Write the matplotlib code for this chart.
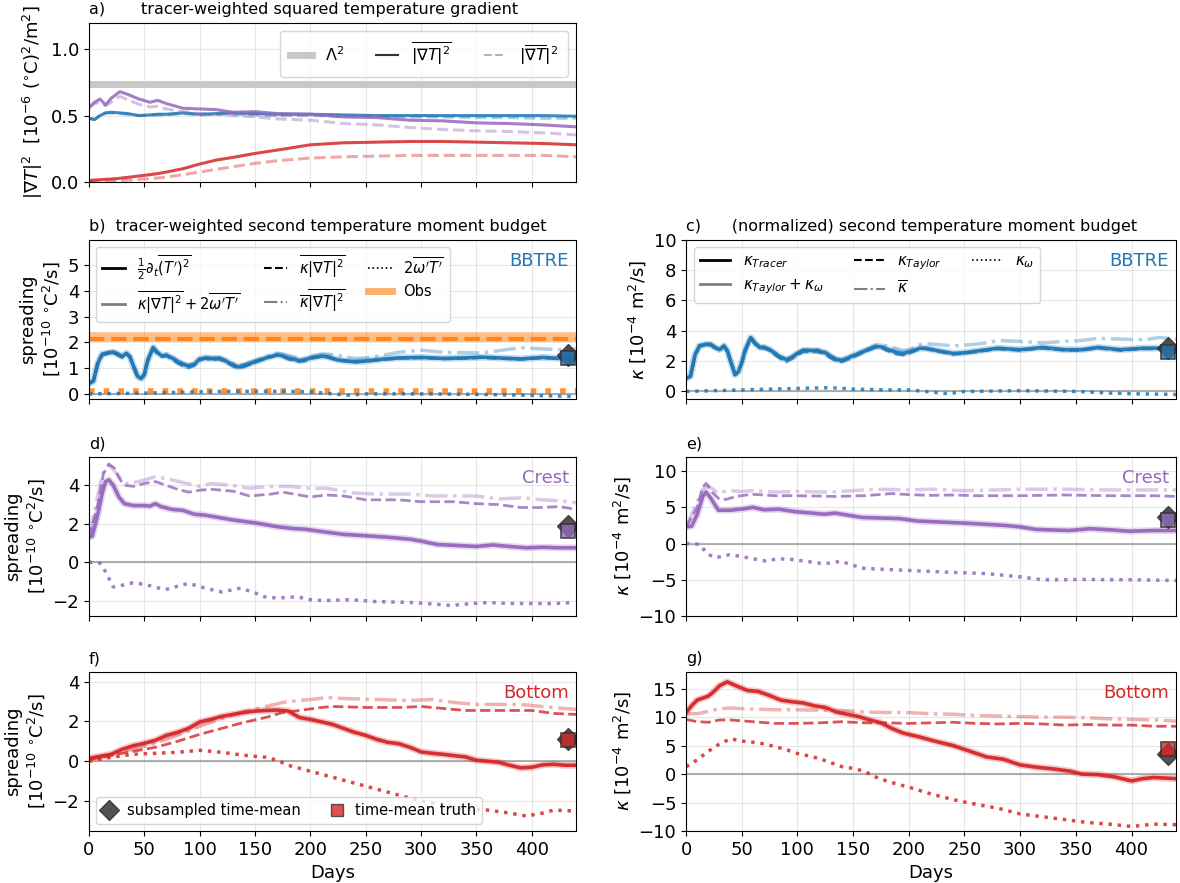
import numpy as np
import matplotlib
matplotlib.use('Agg')
import matplotlib.pyplot as plt
from matplotlib.lines import Line2D

plt.rcParams['font.size'] = 13

c_bbtre = 'tab:blue'
c_crest = 'tab:purple'
c_bottom = 'tab:red'
c_obs = 'tab:orange'
mean_day = 433

# ---- a) squared temperature gradient ----
days_a = [0, 5, 10, 15, 20, 28, 35, 45, 55, 62, 70, 85, 100, 115, 130, 150, 170, 200, 230, 260, 290, 320, 350, 380, 410, 440]
grad2_bbtre = [0.48, 0.47, 0.50, 0.52, 0.525, 0.52, 0.515, 0.50, 0.505, 0.51, 0.51, 0.52, 0.51, 0.515, 0.52, 0.515, 0.51, 0.51, 0.505, 0.50, 0.50, 0.50, 0.50, 0.50, 0.50, 0.495]
gradm2_bbtre = [0.48, 0.47, 0.50, 0.52, 0.52, 0.515, 0.51, 0.50, 0.50, 0.505, 0.505, 0.515, 0.505, 0.51, 0.51, 0.505, 0.50, 0.50, 0.495, 0.495, 0.49, 0.49, 0.485, 0.485, 0.48, 0.48]
grad2_crest = [0.56, 0.60, 0.625, 0.58, 0.63, 0.68, 0.66, 0.625, 0.60, 0.615, 0.59, 0.555, 0.55, 0.545, 0.525, 0.53, 0.515, 0.51, 0.49, 0.485, 0.465, 0.46, 0.445, 0.44, 0.43, 0.415]
gradm2_crest = [0.56, 0.59, 0.60, 0.575, 0.60, 0.645, 0.62, 0.585, 0.565, 0.57, 0.55, 0.53, 0.515, 0.51, 0.50, 0.49, 0.475, 0.465, 0.44, 0.43, 0.41, 0.395, 0.385, 0.38, 0.37, 0.355]
grad2_bottom = [0.01, 0.015, 0.017, 0.02, 0.022, 0.028, 0.035, 0.045, 0.055, 0.063, 0.075, 0.10, 0.135, 0.165, 0.185, 0.215, 0.24, 0.28, 0.295, 0.30, 0.305, 0.305, 0.30, 0.295, 0.29, 0.28]
gradm2_bottom = [0.0, 0.002, 0.004, 0.006, 0.008, 0.011, 0.014, 0.02, 0.025, 0.03, 0.037, 0.055, 0.075, 0.095, 0.115, 0.14, 0.16, 0.18, 0.19, 0.195, 0.2, 0.2, 0.2, 0.2, 0.2, 0.19]
lambda2 = 0.74

# ---- b) / c) BBTRE ----
days_bc = [0, 4, 8, 12, 18, 22, 26, 30, 34, 37, 40, 44, 47, 50, 53, 58, 62, 66, 70, 75, 80, 85, 90, 95, 100, 105, 110, 118, 125, 130, 135, 140, 150, 160, 170, 175, 180, 190, 195, 200, 210, 215, 225, 240, 250, 265, 280, 300, 320, 340, 355, 370, 390, 410, 425, 440]
sp_tracer_bbtre = [0.4, 0.5, 1.2, 1.55, 1.6, 1.62, 1.55, 1.45, 1.58, 1.45, 1.1, 0.68, 0.6, 0.75, 1.3, 1.8, 1.6, 1.48, 1.5, 1.4, 1.25, 1.15, 1.08, 1.15, 1.35, 1.4, 1.37, 1.38, 1.25, 1.13, 1.05, 1.1, 1.25, 1.4, 1.52, 1.48, 1.4, 1.3, 1.32, 1.4, 1.47, 1.45, 1.32, 1.25, 1.28, 1.35, 1.4, 1.42, 1.38, 1.4, 1.43, 1.4, 1.36, 1.42, 1.38, 1.42]
sp_taylor_bbtre = [0.4, 0.5, 1.15, 1.5, 1.58, 1.6, 1.5, 1.42, 1.55, 1.4, 1.05, 0.65, 0.58, 0.72, 1.25, 1.75, 1.55, 1.45, 1.47, 1.35, 1.2, 1.08, 1.02, 1.1, 1.3, 1.37, 1.33, 1.35, 1.2, 1.08, 1.0, 1.05, 1.22, 1.38, 1.5, 1.45, 1.35, 1.25, 1.28, 1.37, 1.45, 1.43, 1.3, 1.23, 1.26, 1.33, 1.38, 1.4, 1.36, 1.38, 1.41, 1.38, 1.34, 1.4, 1.36, 1.4]
sp_kbar_bbtre = [0.42, 0.52, 1.22, 1.57, 1.63, 1.65, 1.58, 1.48, 1.6, 1.48, 1.12, 0.7, 0.62, 0.78, 1.32, 1.82, 1.63, 1.52, 1.55, 1.45, 1.3, 1.2, 1.12, 1.2, 1.38, 1.45, 1.42, 1.42, 1.3, 1.18, 1.1, 1.15, 1.3, 1.45, 1.58, 1.55, 1.5, 1.38, 1.38, 1.45, 1.55, 1.55, 1.5, 1.38, 1.4, 1.5, 1.62, 1.7, 1.62, 1.6, 1.6, 1.68, 1.8, 1.75, 1.72, 1.75]
k_tracer_bbtre = [0.85, 1.0, 2.4, 3.0, 3.1, 3.1, 2.9, 2.75, 3.0, 2.7, 2.0, 1.1, 1.3, 1.9, 2.7, 3.55, 3.2, 2.9, 2.9, 2.75, 2.5, 2.25, 2.1, 2.25, 2.5, 2.7, 2.7, 2.7, 2.55, 2.3, 2.1, 2.05, 2.35, 2.65, 2.95, 2.95, 2.8, 2.55, 2.5, 2.6, 2.85, 2.85, 2.7, 2.5, 2.55, 2.7, 2.85, 2.75, 2.9, 2.75, 2.75, 2.9, 2.75, 2.85, 2.85, 2.85]
k_taylor_bbtre = [0.85, 1.0, 2.3, 2.95, 3.05, 3.05, 2.85, 2.7, 2.95, 2.6, 1.95, 1.1, 1.3, 1.85, 2.6, 3.45, 3.1, 2.85, 2.85, 2.7, 2.4, 2.15, 1.95, 2.15, 2.4, 2.6, 2.6, 2.6, 2.45, 2.2, 2.0, 1.95, 2.25, 2.6, 2.9, 2.9, 2.7, 2.45, 2.4, 2.5, 2.8, 2.8, 2.65, 2.45, 2.5, 2.65, 2.8, 2.7, 2.85, 2.7, 2.7, 2.85, 2.7, 2.8, 2.8, 2.8]
k_kbar_bbtre = [0.87, 1.02, 2.45, 3.05, 3.15, 3.15, 2.95, 2.8, 3.05, 2.75, 2.05, 1.15, 1.35, 1.95, 2.75, 3.6, 3.25, 2.95, 2.95, 2.8, 2.55, 2.3, 2.15, 2.3, 2.55, 2.75, 2.75, 2.75, 2.6, 2.35, 2.15, 2.1, 2.4, 2.7, 3.05, 3.1, 3.0, 2.8, 2.7, 2.75, 3.1, 3.15, 3.1, 3.0, 3.05, 3.15, 3.35, 3.3, 3.2, 3.3, 3.35, 3.5, 3.45, 3.4, 3.55, 3.45]
days_bc_w = [0, 50, 100, 130, 150, 180, 200, 215, 235, 250, 300, 350, 380, 400, 440]
sp_omega_bbtre = [0.0, 0.03, 0.08, 0.1, 0.1, 0.1, 0.08, 0.02, -0.05, 0.0, 0.0, -0.02, -0.04, -0.06, -0.1]
k_omega_bbtre = [0.0, 0.1, 0.2, 0.25, 0.15, 0.1, 0.1, 0.0, -0.15, 0.0, 0.05, 0.0, -0.1, -0.15, -0.2]
obs_spread = 2.2
obs_taylor = 2.12
obs_omega = 0.12

# ---- d) Crest spreading ----
days_d = [0, 3, 8, 12, 15, 18, 22, 27, 32, 40, 50, 55, 60, 65, 75, 85, 95, 105, 120, 130, 150, 170, 185, 195, 210, 230, 250, 270, 290, 300, 315, 330, 350, 365, 380, 395, 410, 425, 440]
sp_tracer_crest = [1.3, 1.35, 2.5, 3.6, 4.2, 4.28, 4.0, 3.4, 3.05, 2.95, 2.95, 2.92, 3.05, 2.9, 2.75, 2.7, 2.5, 2.45, 2.3, 2.2, 2.05, 1.85, 1.75, 1.72, 1.6, 1.45, 1.38, 1.3, 1.2, 1.1, 0.92, 0.88, 0.82, 0.9, 0.82, 0.75, 0.78, 0.75, 0.75]
days_d_t = [0, 8, 13, 18, 23, 28, 33, 40, 50, 60, 70, 80, 90, 100, 110, 130, 145, 165, 175, 190, 200, 215, 230, 250, 280, 300, 330, 350, 370, 390, 410, 425, 440]
sp_taylor_crest = [1.3, 3.0, 4.6, 5.1, 4.9, 4.3, 4.0, 3.95, 4.1, 4.2, 4.0, 3.8, 3.65, 3.75, 3.8, 3.7, 3.45, 3.55, 3.65, 3.5, 3.4, 3.5, 3.45, 3.25, 3.25, 3.15, 3.15, 3.05, 3.0, 2.85, 2.85, 2.9, 2.75]
days_d_k = [0, 12, 18, 25, 33, 45, 60, 70, 85, 100, 110, 130, 145, 165, 180, 200, 215, 240, 260, 290, 310, 330, 350, 370, 390, 410, 425, 440]
sp_kbar_crest = [1.3, 4.6, 5.1, 4.6, 4.1, 4.2, 4.45, 4.35, 4.15, 3.95, 4.1, 4.0, 3.85, 3.95, 3.95, 3.85, 3.85, 3.6, 3.55, 3.55, 3.45, 3.45, 3.45, 3.3, 3.35, 3.25, 3.2, 3.1]
days_d_w = [0, 10, 15, 22, 30, 39, 50, 60, 69, 80, 90, 105, 120, 137, 150, 161, 175, 188, 200, 212, 236, 259, 293, 327, 347, 361, 380, 395, 420, 439]
sp_omega_crest = [0, -0.05, -0.5, -1.29, -1.2, -1.08, -1.15, -1.3, -1.43, -1.25, -1.1, -1.35, -1.55, -1.35, -1.6, -1.85, -1.85, -1.8, -1.95, -2.0, -1.95, -2.05, -2.1, -2.25, -2.15, -2.1, -2.15, -2.15, -2.15, -2.1]

# ---- e) Crest diffusivity ----
days_e = [0, 5, 10, 15, 18, 22, 29, 40, 52, 60, 70, 83, 98, 124, 134, 158, 192, 208, 253, 286, 300, 314, 344, 363, 380, 398, 420, 440]
k_tracer_crest = [2.3, 2.4, 4.0, 6.5, 7.1, 6.3, 4.6, 4.6, 4.8, 5.0, 4.65, 4.74, 4.4, 4.05, 4.2, 3.6, 3.44, 3.1, 2.8, 2.5, 2.3, 1.95, 1.8, 2.05, 1.9, 1.7, 1.8, 1.8]
days_e_t = [0, 10, 15, 18, 24, 30, 36, 45, 59, 70, 80, 100, 120, 134, 160, 185, 200, 220, 240, 260, 280, 300, 320, 340, 360, 380, 400, 420, 440]
k_taylor_crest = [2.3, 5.0, 7.8, 8.3, 7.0, 6.1, 6.1, 6.5, 6.8, 6.7, 6.6, 6.6, 6.55, 6.5, 6.6, 6.9, 6.75, 6.65, 6.7, 6.6, 6.6, 6.6, 6.65, 6.7, 6.65, 6.6, 6.6, 6.6, 6.5]
days_e_k = [0, 15, 20, 28, 39, 50, 60, 80, 100, 130, 150, 170, 200, 220, 250, 280, 300, 340, 380, 440]
k_kbar_crest = [2.3, 7.5, 8.0, 7.0, 7.3, 7.2, 7.3, 7.1, 7.2, 7.1, 7.3, 7.5, 7.4, 7.5, 7.3, 7.4, 7.5, 7.5, 7.4, 7.4]
days_e_w = [0, 12, 15, 18, 25, 30, 39, 50, 60, 71, 83, 95, 110, 124, 139, 158, 175, 198, 220, 242, 270, 300, 320, 340, 360, 380, 400, 420, 440]
k_omega_crest = [0, -0.1, -0.6, -1.3, -1.9, -1.85, -1.55, -1.8, -2.1, -2.4, -2.1, -2.2, -2.5, -2.8, -2.45, -3.4, -3.55, -3.7, -3.85, -4.0, -4.15, -4.6, -5.0, -5.0, -4.95, -5.0, -5.0, -5.05, -5.1]

# ---- f) Bottom spreading ----
days_f = list(range(0, 450, 10))
sp_tracer_bottom = [0.15, 0.25, 0.35, 0.6, 0.78, 0.9, 1.05, 1.3, 1.45, 1.65, 1.97, 2.1, 2.25, 2.35, 2.45, 2.52, 2.55, 2.57, 2.52, 2.2, 2.1, 1.98, 1.85, 1.65, 1.45, 1.3, 1.1, 0.95, 0.88, 0.7, 0.47, 0.4, 0.35, 0.28, 0.22, 0.05, 0.0, -0.05, -0.2, -0.33, -0.3, -0.18, -0.15, -0.2, -0.2]
days_f_t = [0, 20, 40, 60, 80, 100, 120, 140, 160, 175, 190, 210, 220, 250, 280, 300, 320, 340, 360, 380, 400, 420, 440]
sp_taylor_bottom = [0.1, 0.3, 0.5, 0.7, 1.0, 1.35, 1.65, 1.95, 2.2, 2.45, 2.55, 2.7, 2.75, 2.7, 2.7, 2.75, 2.65, 2.55, 2.55, 2.55, 2.55, 2.4, 2.35]
days_f_k = [0, 20, 40, 60, 80, 100, 120, 140, 160, 175, 190, 200, 215, 230, 260, 290, 310, 330, 350, 370, 390, 410, 440]
sp_kbar_bottom = [0.1, 0.3, 0.6, 0.9, 1.3, 1.75, 2.15, 2.5, 2.75, 2.95, 3.05, 3.1, 3.2, 3.15, 3.1, 3.05, 3.1, 2.95, 2.85, 2.85, 2.85, 2.75, 2.6]
days_f_w = [0, 20, 40, 60, 80, 100, 120, 140, 160, 170, 180, 200, 220, 240, 260, 280, 300, 320, 340, 360, 380, 395, 410, 420, 440]
sp_omega_bottom = [0.0, 0.2, 0.35, 0.4, 0.45, 0.55, 0.45, 0.3, 0.2, 0.05, -0.2, -0.5, -0.8, -1.1, -1.4, -1.7, -2.0, -2.2, -2.4, -2.45, -2.6, -2.75, -2.6, -2.45, -2.5]

# ---- g) Bottom diffusivity ----
days_g = [0, 5, 10, 20, 25, 30, 37, 45, 55, 65, 75, 85, 95, 105, 115, 125, 135, 145, 155, 165, 175, 185, 195, 210, 225, 240, 255, 270, 285, 300, 315, 330, 345, 355, 370, 385, 400, 410, 420, 430, 440]
k_tracer_bottom = [10.8, 12.0, 13.0, 13.7, 14.5, 15.5, 16.2, 15.5, 14.7, 14.5, 13.8, 13.0, 12.7, 12.5, 12.0, 11.7, 10.9, 10.5, 10.1, 9.5, 9.0, 8.0, 7.2, 6.5, 5.7, 5.0, 4.0, 3.0, 2.6, 1.6, 1.2, 0.9, 0.5, 0.0, -0.1, -0.5, -1.2, -0.8, -0.6, -0.7, -0.8]
days_g_t = [0, 10, 20, 30, 40, 60, 80, 100, 120, 140, 160, 180, 200, 220, 240, 260, 280, 300, 320, 340, 360, 380, 400, 420, 440]
k_taylor_bottom = [9.6, 9.2, 9.1, 9.5, 9.5, 9.2, 8.9, 8.9, 9.0, 9.2, 9.0, 9.0, 8.9, 9.0, 9.1, 8.9, 8.8, 8.9, 8.8, 8.6, 8.7, 8.6, 8.6, 8.4, 8.4]
k_kbar_bottom = [10.6, 10.6, 11.0, 11.5, 11.6, 11.4, 11.3, 11.3, 11.2, 11.2, 10.9, 10.8, 10.8, 10.6, 10.5, 10.3, 10.2, 10.1, 10.0, 10.0, 9.9, 9.7, 9.6, 9.5, 9.3]
days_g_w = [0, 10, 20, 30, 40, 50, 60, 70, 80, 90, 100, 110, 120, 130, 140, 150, 160, 170, 180, 190, 200, 220, 240, 260, 280, 300, 320, 340, 360, 380, 400, 420, 440]
k_omega_bottom = [1.3, 2.5, 4.0, 5.3, 6.2, 5.8, 5.6, 5.3, 4.8, 4.3, 3.6, 3.2, 2.7, 2.0, 1.3, 1.0, 0.5, -0.5, -1.2, -1.8, -2.3, -3.5, -4.5, -5.3, -6.0, -7.0, -7.5, -8.0, -8.5, -8.8, -9.2, -8.8, -8.9]

# time means at end of record: (subsampled, truth)
tm_sp_bbtre = (1.5, 1.38)
tm_k_bbtre = (2.85, 2.6)
tm_sp_crest = (1.88, 1.65)
tm_k_crest = (3.72, 3.3)
tm_sp_bottom = (1.12, 1.05)
tm_k_bottom = (3.45, 4.4)


def budget_lines(ax, col, d_tr, tracer, d_t, taylor, d_k, kbar, d_w, omega, tm):
    ax.axhline(0, color='gray', alpha=0.6, lw=1.5)
    ax.plot(d_tr, tracer, color=col, lw=5, alpha=0.25)
    ax.plot(d_tr, tracer, color=col, lw=2.6, alpha=0.95)
    ax.plot(d_t, taylor, color=col, lw=2, ls='--', alpha=0.8)
    ax.plot(d_k, kbar, color=col, lw=2.5, ls='-.', alpha=0.35)
    ax.plot(d_w, omega, color=col, lw=2.5, ls=':', alpha=0.85)
    ax.plot(mean_day, tm[0], 'D', color='#333333', ms=11, alpha=0.85)
    ax.plot(mean_day, tm[1], 's', mfc=col, mec='#333333', ms=10, mew=1.3, alpha=0.8)


fig = plt.figure(figsize=(11.8, 8.83), dpi=100)
lx, rx, w_l, w_r = 0.0754, 0.5814, 0.4127, 0.4153
rows = [0.7939, 0.5481, 0.3024, 0.0589]
h = 0.1805

ax_a = fig.add_axes([lx, rows[0], w_l, h])
ax_b = fig.add_axes([lx, rows[1], w_l, h])
ax_c = fig.add_axes([rx, rows[1], w_r, h])
ax_d = fig.add_axes([lx, rows[2], w_l, h])
ax_e = fig.add_axes([rx, rows[2], w_r, h])
ax_f = fig.add_axes([lx, rows[3], w_l, h])
ax_g = fig.add_axes([rx, rows[3], w_r, h])

# panel a
ax_a.axhline(lambda2, color='#c8c8c8', lw=5)
for col, g2, gm2 in [(c_bbtre, grad2_bbtre, gradm2_bbtre), (c_crest, grad2_crest, gradm2_crest),
                     (c_bottom, grad2_bottom, gradm2_bottom)]:
    ax_a.plot(days_a, g2, color=col, lw=2.2, alpha=0.85)
    ax_a.plot(days_a, gm2, color=col, lw=2.2, ls='--', alpha=0.4)
ax_a.set_ylim(0, 1.2)
ax_a.set_yticks([0, 0.5, 1.0])
ax_a.set_ylabel(r'$|\nabla T|^2$  [$10^{-6}$ ($^{\circ}$C)$^2$/m$^2$]')
ax_a.set_title('a)       tracer-weighted squared temperature gradient', loc='left', fontsize=11.5)
h_a = [Line2D([], [], color='#c8c8c8', lw=5),
       Line2D([], [], color='#333333', lw=1.5),
       Line2D([], [], color='gray', lw=1.5, ls='--', alpha=0.6)]
ax_a.legend(h_a, [r'$\Lambda^2$', r'$\overline{|\nabla T|^2}$', r'$|\overline{\nabla T}|^2$'],
            ncol=3, loc='upper right', fontsize=11.5, borderpad=0.6, handlelength=1.4)

# panel b
ax_b.axhline(obs_spread, color=c_obs, lw=7, alpha=0.5)
ax_b.axhline(obs_taylor, color=c_obs, lw=3, ls='--', alpha=0.9)
ax_b.axhline(obs_omega, color=c_obs, lw=4, ls=':', alpha=0.85)
budget_lines(ax_b, c_bbtre, days_bc, sp_tracer_bbtre, days_bc, sp_taylor_bbtre, days_bc, sp_kbar_bbtre,
             days_bc_w, sp_omega_bbtre, tm_sp_bbtre)
ax_b.set_ylim(-0.2, 6)
ax_b.set_yticks([0, 1, 2, 3, 4, 5])
ax_b.set_title('b)  tracer-weighted second temperature moment budget', loc='left', fontsize=11.5)
h_b = [Line2D([], [], color='k', lw=2), Line2D([], [], color='gray', lw=2),
       Line2D([], [], color='k', lw=1.5, ls='--'), Line2D([], [], color='gray', lw=1.5, ls='-.'),
       Line2D([], [], color='k', lw=1.2, ls=':'), Line2D([], [], color=c_obs, lw=5, alpha=0.6)]
l_b = [r'$\frac{1}{2}\partial_t\overline{(T^\prime)^2}$',
       r'$\overline{\kappa|\nabla T|^2} + 2\overline{\omega^\prime T^\prime}$',
       r'$\overline{\kappa|\nabla T|^2}$',
       r'$\overline{\kappa}\overline{|\nabla T|^2}$',
       r'$2\overline{\omega^\prime T^\prime}$', 'Obs']
ax_b.legend(h_b, l_b, ncol=3, loc='upper left', fontsize=10.5, handlelength=1.6, columnspacing=1.6)

# panel c
budget_lines(ax_c, c_bbtre, days_bc, k_tracer_bbtre, days_bc, k_taylor_bbtre, days_bc, k_kbar_bbtre,
             days_bc_w, k_omega_bbtre, tm_k_bbtre)
ax_c.set_ylim(-0.5, 10)
ax_c.set_yticks([0, 2, 4, 6, 8, 10])
ax_c.set_title('c)      (normalized) second temperature moment budget', loc='left', fontsize=11.5)
h_c = [Line2D([], [], color='k', lw=2), Line2D([], [], color='gray', lw=2),
       Line2D([], [], color='k', lw=1.5, ls='--'), Line2D([], [], color='gray', lw=1.5, ls='-.'),
       Line2D([], [], color='k', lw=1.2, ls=':')]
l_c = [r'$\kappa_{Tracer}$', r'$\kappa_{Taylor} + \kappa_{\omega}$', r'$\kappa_{Taylor}$',
       r'$\overline{\kappa}$', r'$\kappa_{\omega}$']
ax_c.legend(h_c, l_c, ncol=3, loc='upper left', fontsize=11)

# panels d-g
budget_lines(ax_d, c_crest, days_d, sp_tracer_crest, days_d_t, sp_taylor_crest, days_d_k, sp_kbar_crest,
             days_d_w, sp_omega_crest, tm_sp_crest)
ax_d.set_ylim(-2.8, 5.5)
ax_d.set_yticks([-2, 0, 2, 4])
budget_lines(ax_e, c_crest, days_e, k_tracer_crest, days_e_t, k_taylor_crest, days_e_k, k_kbar_crest,
             days_e_w, k_omega_crest, tm_k_crest)
ax_e.set_ylim(-10, 12)
ax_e.set_yticks([-10, -5, 0, 5, 10])
budget_lines(ax_f, c_bottom, days_f, sp_tracer_bottom, days_f_t, sp_taylor_bottom, days_f_k, sp_kbar_bottom,
             days_f_w, sp_omega_bottom, tm_sp_bottom)
ax_f.set_ylim(-3.5, 4.5)
ax_f.set_yticks([-2, 0, 2, 4])
budget_lines(ax_g, c_bottom, days_g, k_tracer_bottom, days_g_t, k_taylor_bottom, days_g_t, k_kbar_bottom,
             days_g_w, k_omega_bottom, tm_k_bottom)
ax_g.set_ylim(-10, 18)
ax_g.set_yticks([-10, -5, 0, 5, 10, 15])

for ax, lab in [(ax_d, 'd)'), (ax_e, 'e)'), (ax_f, 'f)'), (ax_g, 'g)')]:
    ax.set_title(lab, loc='left', fontsize=11.5)

h_f = [Line2D([], [], marker='D', color='#333333', ls='none', ms=10, alpha=0.85),
       Line2D([], [], marker='s', mfc=c_bottom, mec='#333333', ls='none', ms=9, alpha=0.8)]
ax_f.legend(h_f, ['subsampled time-mean', 'time-mean truth'], ncol=2, loc='lower left', fontsize=10.5,
            handlelength=1.0, handletextpad=0.7, columnspacing=2.0)

for ax, name, col in [(ax_b, 'BBTRE', c_bbtre), (ax_c, 'BBTRE', c_bbtre), (ax_d, 'Crest', c_crest),
                      (ax_e, 'Crest', c_crest), (ax_f, 'Bottom', c_bottom), (ax_g, 'Bottom', c_bottom)]:
    ax.text(0.985, 0.92, name, color=col, ha='right', va='top', transform=ax.transAxes, fontsize=13)

for ax in [ax_b, ax_d, ax_f]:
    ax.set_ylabel('spreading\n[$10^{-10}$ $^{\\circ}$C$^2$/s]')
for ax in [ax_c, ax_e, ax_g]:
    ax.set_ylabel(r'$\kappa$ [$10^{-4}$ m$^2$/s]')

for ax in [ax_a, ax_b, ax_c, ax_d, ax_e, ax_f, ax_g]:
    ax.set_xlim(0, 440)
    ax.set_xticks(np.arange(0, 401, 50))
    ax.grid(True, alpha=0.3)
    if ax not in (ax_f, ax_g):
        ax.tick_params(labelbottom=False)
    else:
        ax.set_xlabel('Days')

fig.savefig('out.png', dpi=100)
